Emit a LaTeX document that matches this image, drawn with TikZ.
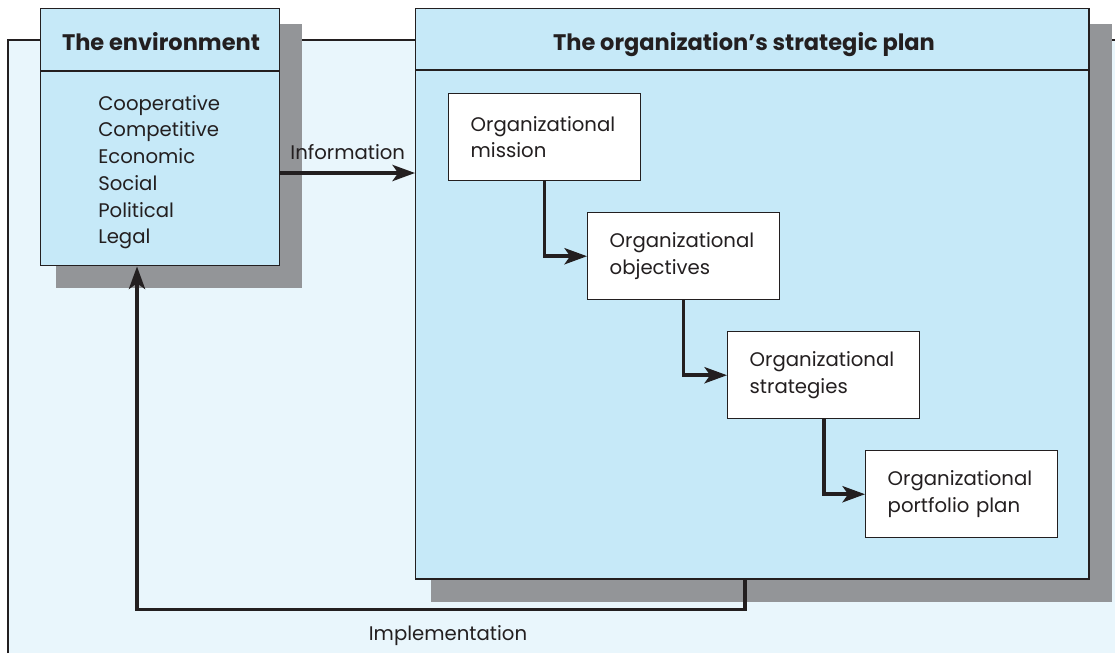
\documentclass[tikz,border=0pt]{standalone}
\usepackage{fontspec}
\setmainfont{Poppins}
\usetikzlibrary{arrows.meta,positioning,calc,backgrounds}
\definecolor{ink}{HTML}{231F20}
\definecolor{boxblue}{HTML}{C6E9F8}
\definecolor{paleblue}{HTML}{E9F6FC}
\definecolor{shadowgray}{HTML}{939598}
\newcommand{\bodyfont}{\fontsize{14}{19}\selectfont}
\newcommand{\headfont}{\fontsize{16}{19}\selectfont\bfseries}
\newcommand{\dropshadow}[1]{\fill[shadowgray] ($(#1.north west)+(16,16)$) rectangle ($(#1.south east)+(22,22)$);}
\tikzset{>={Stealth[length=16pt,width=11.5pt,inset=4pt]}}
\tikzset{
  panel/.style={draw=ink, line width=1pt, fill=boxblue, inner sep=0pt, anchor=north west},
  divider/.style={draw=ink, line width=1pt},
  stepbox/.style={draw=ink, line width=1pt, fill=white, anchor=north west,
    minimum width=4.8cm, minimum height=2.175cm, text width=3.7cm,
    inner xsep=0.55cm, inner ysep=0pt, align=left, font=\bodyfont, text=ink},
  flow/.style={draw=ink, line width=2.5pt, ->},
  heading/.style={font=\headfont, text=ink, anchor=base},
  lbl/.style={font=\bodyfont, text=ink},
}

\begin{document}
\begin{tikzpicture}[x=0.025cm, y=-0.025cm]
\useasboundingbox (0,0) rectangle (1115,653);

% the two panels
\node[panel, minimum width=5.975cm, minimum height=6.425cm] (env) at (40,8) {};
\node[panel, minimum width=16.825cm, minimum height=14.25cm] (plan) at (415,8) {};
\draw[divider] (env.west |- 0,71) -- (env.east |- 0,71);
\draw[divider] (plan.west |- 0,70) -- (plan.east |- 0,70);
\node[heading] (envtitle) at (161,50) {The environment};
\node[heading] (plantitle) at (744,50) {The organization's strategic plan};
\node[lbl, align=left, anchor=north west, inner sep=0pt] (forces) at (98,95)
  {Cooperative\\Competitive\\Economic\\Social\\Political\\Legal};

% the four steps
\node[stepbox] (mission) at (448,93) {Organizational\\mission};
\node[stepbox] (objectives) at (587,212) {Organizational\\objectives};
\node[stepbox] (strategies) at (727,331) {Organizational\\strategies};
\node[stepbox] (portfolio) at (865,450) {Organizational\\portfolio plan};

% connectors
\draw[flow] (env.east |- 0,173) -- node[lbl, above=5pt] (info) {Information} (plan.west |- 0,173);
\draw[flow] (mission.south) |- (objectives.west);
\draw[flow] (objectives.south) |- (strategies.west);
\draw[flow] (strategies.south) |- (portfolio.west);
\draw[flow] (plan.south -| 745,0) -- ++(0,30) -| (env.south -| 137,0);
\node[lbl, anchor=base] (impl) at (448,640) {Implementation};

% outer panel and shadows behind everything
\begin{scope}[on background layer]
\fill[paleblue] (8,40) rectangle (1115,653);
\draw[divider] (8,653) -- (8,40) -- (1115,40);
\foreach \n in {env,plan,mission,objectives,strategies,portfolio}
  {\dropshadow{\n}}
\end{scope}
\end{tikzpicture}
\end{document}
